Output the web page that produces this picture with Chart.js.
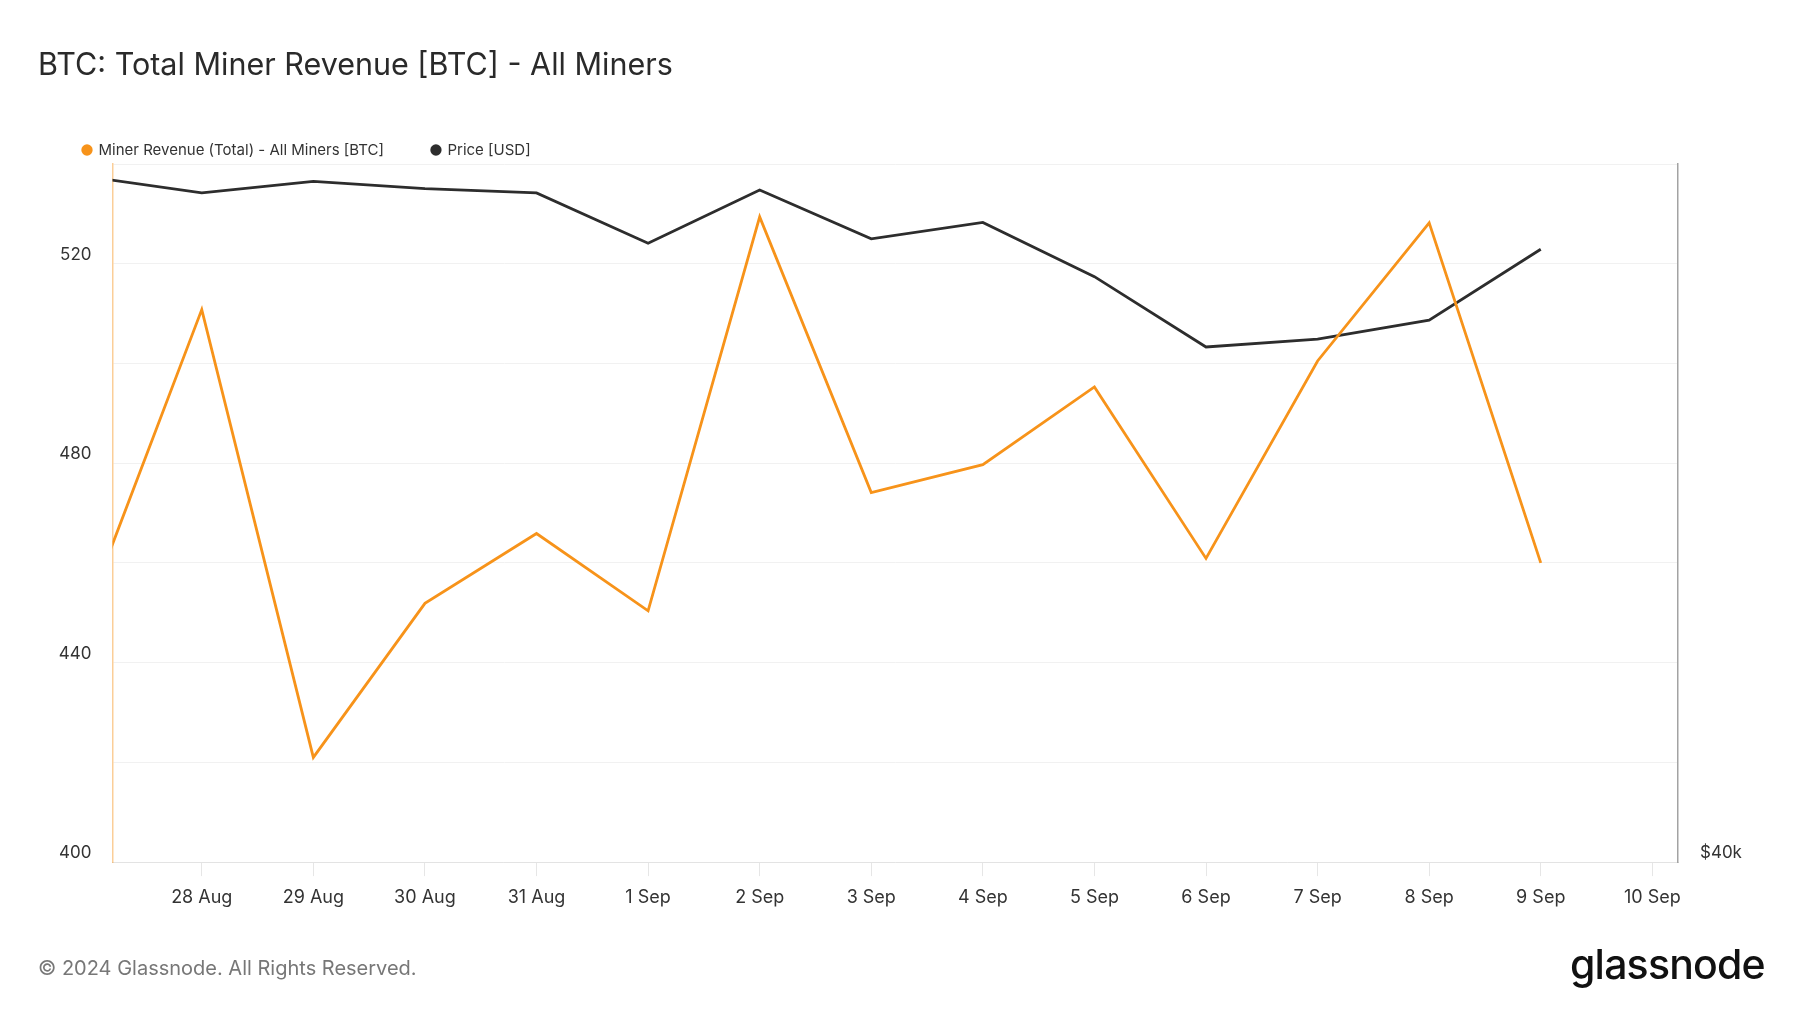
<!DOCTYPE html>
<html lang="en">
<head>
  <meta charset="UTF-8">
  <title>BTC: Total Miner Revenue [BTC] - All Miners</title>
  <style>
    body {
      margin: 0;
      background: #fff;
      font-family: Inter, "Noto Sans", Arial, sans-serif;
    }

    .page {
      position: relative;
      width: 1800px;
      height: 1013px;
      overflow: hidden;
    }

    .title {
      position: absolute;
      left: 38px;
      top: 45px;
      font-size: 30.5px;
      line-height: 38px;
      color: #2a2a2a;
    }

    .copy {
      position: absolute;
      left: 38px;
      top: 956px;
      font-size: 20px;
      line-height: 24px;
      color: #777;
    }

    .logo {
      position: absolute;
      left: 1570px;
      top: 939px;
      font-size: 41px;
      line-height: 50px;
      font-weight: 500;
      letter-spacing: -0.8px;
      color: #111;
    }

    canvas {
      position: absolute;
      left: 0;
      top: 0;
    }
  </style>
</head>
<body>
  <div class="page">
    <canvas id="chart" width="1800" height="1013"></canvas>
    <div class="title">BTC: Total Miner Revenue [BTC] - All Miners</div>
    <div class="copy">© 2024 Glassnode. All Rights Reserved.</div>
    <div class="logo">glassnode</div>
  </div>

  <script src="https://cdn.jsdelivr.net/npm/chart.js"></script>
  <script>
    // one entry per day, 27 Aug .. 10 Sep
    const dates = ['27 Aug', '28 Aug', '29 Aug', '30 Aug', '31 Aug', '1 Sep', '2 Sep',
      '3 Sep', '4 Sep', '5 Sep', '6 Sep', '7 Sep', '8 Sep', '9 Sep', '10 Sep'];

    // miner revenue [BTC], 27 Aug .. 9 Sep
    const revenue = [452, 510.8, 421.0, 451.9, 465.9, 450.4, 529.4,
      474.1, 479.7, 495.3, 460.9, 500.5, 528.2, 460.0];

    // BTC price [USD], 27 Aug .. 9 Sep
    const price = [59550, 59000, 59400, 59150, 59000, 57300, 59100,
      57450, 58000, 56200, 53950, 54200, 54800, 57100];

    const revenueTicks = [400, 440, 480, 520];
    const priceTicks = [40000];

    const orange = '#f7931a';
    const dark = '#2d2d2d';

    Chart.defaults.font.family = 'Inter, "Noto Sans", Arial, sans-serif';
    Chart.defaults.color = '#333';

    // nudge the legend row down a little, the plot area stays where it is
    const legendShift = {
      id: 'legendShift',
      afterLayout(c) {
        c.legend.top += 3.5;
        c.legend.bottom += 3.5;
      }
    };

    const ctx = document.getElementById('chart').getContext('2d');
    const chart = new Chart(ctx, {
      type: 'line',
      data: {
        datasets: [
          {
            label: 'Miner Revenue (Total) - All Miners [BTC]',
            data: revenue.map((v, i) => ({ x: i, y: v })),
            borderColor: orange,
            backgroundColor: orange,
            borderWidth: 2.8,
            pointRadius: 0,
            tension: 0,
            yAxisID: 'y'
          },
          {
            label: 'Price [USD]',
            data: price.map((v, i) => ({ x: i, y: v })),
            borderColor: dark,
            backgroundColor: dark,
            borderWidth: 2.8,
            pointRadius: 0,
            tension: 0,
            yAxisID: 'price'
          }
        ]
      },
      plugins: [legendShift],
      options: {
        responsive: false,
        animation: false,
        layout: {
          padding: { left: 35, top: 91, right: 0, bottom: 93.3 }
        },
        plugins: {
          tooltip: { enabled: false },
          legend: {
            position: 'top',
            align: 'start',
            labels: {
              usePointStyle: true,
              pointStyle: 'circle',
              boxWidth: 8,
              boxHeight: 8,
              padding: 48,
              color: '#333',
              font: { size: 15 },
              generateLabels: c => Chart.defaults.plugins.legend.labels.generateLabels(c)
                .map(l => ({ ...l, lineWidth: 0 }))
            }
          }
        },
        scales: {
          x: {
            type: 'linear',
            min: 0.2,
            max: 14.23,
            grid: {
              drawOnChartArea: false,
              color: '#e6e6e6',
              tickLength: 14
            },
            border: { color: '#e3e3e3', width: 1 },
            ticks: {
              stepSize: 1,
              includeBounds: false,
              autoSkip: false,
              maxRotation: 0,
              padding: 11,
              color: '#333',
              font: { size: 18 },
              callback: v => dates[v]
            }
          },
          y: {
            position: 'left',
            min: 400,
            max: 540,
            afterFit: s => { s.width = 77.5; },
            grid: { color: '#f1f1f1', drawTicks: false },
            border: { color: 'rgba(247,147,26,0.45)', width: 1.5 },
            ticks: {
              stepSize: 20,
              padding: 21,
              labelOffset: -9,
              color: '#333',
              font: { size: 17 },
              callback: v => revenueTicks.includes(v) ? String(v) : ''
            }
          },
          price: {
            type: 'logarithmic',
            position: 'right',
            min: 40000,
            max: 60000,
            afterFit: s => { s.width = 122; },
            afterBuildTicks: s => { s.ticks = priceTicks.map(v => ({ value: v })); },
            grid: { drawOnChartArea: false, drawTicks: false },
            border: { color: '#a3a3a3', width: 1.5 },
            ticks: {
              padding: 22,
              labelOffset: -9,
              color: '#333',
              font: { size: 17 },
              callback: v => '$' + (v / 1000) + 'k'
            }
          }
        }
      }
    });
  </script>
</body>
</html>
